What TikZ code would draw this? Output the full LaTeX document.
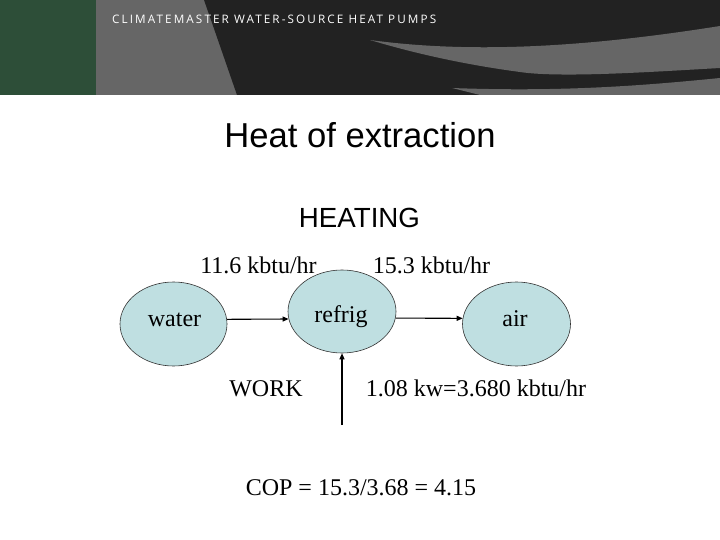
\documentclass[tikz,border=0pt]{standalone}
\usepackage{fontspec}
\usepackage{graphicx}
\setmainfont{Liberation Serif}
\newfontfamily\arialf{Liberation Sans}
\newfontfamily\headf{Open Sans}
\usetikzlibrary{shapes.geometric,arrows.meta}
\definecolor{hgreen}{HTML}{2D4E38}
\definecolor{hgray}{HTML}{666666}
\definecolor{hdark}{HTML}{222222}
\definecolor{ellfill}{HTML}{BFDFE1}
\tikzset{
  blob/.style={ellipse, draw=black!80, line width=0.6pt, fill=ellfill, minimum width=107pt, minimum height=84pt, inner sep=0pt, font=\fontsize{24}{28}\selectfont},
  lbl/.style={anchor=base, inner sep=0pt, font=\fontsize{24}{28}\selectfont},
  arr/.style={line width=1.1pt, -{Triangle[length=6pt,width=5pt]}}
}
\begin{document}
\begin{tikzpicture}[x=1pt,y=-1pt]
\useasboundingbox (0,0) rectangle (720,540);
\fill[white] (0,0) rectangle (720,540);
% header
\fill[hgray] (0,0) rectangle (720,95);
\fill[hdark] (204,0) .. controls (218,40) and (230,75) .. (237,95) -- (720,95) -- (720,0) -- cycle;
\fill[hgray] (370,40) .. controls (480,55) and (600,45) .. (720,26) -- (720,68) .. controls (650,72) and (560,78) .. (520,72) .. controls (460,64) and (410,52) .. (370,40) -- cycle;
\fill[hgray] (452,88) .. controls (560,92) and (640,86) .. (720,78) -- (720,95) -- (480,95) -- cycle;
\fill[hgreen] (0,0) rectangle (96,95);
\node[anchor=west, inner sep=0pt, text=white] (head) at (112,19) {\resizebox{324pt}{!}{\headf\addfontfeatures{LetterSpace=18}CLIMATEMASTER WATER-SOURCE HEAT PUMPS}};
% titles
\node[anchor=base, inner sep=0pt, font=\arialf\fontsize{34.6}{40}\selectfont] (title) at (360,148) {Heat of extraction};
\node[anchor=base, inner sep=0pt, font=\arialf\fontsize{27.7}{32}\selectfont] (heating) at (359.5,227) {HEATING};
% ellipses
\node[blob] (water) at (173.5,324) {};
\node[blob, minimum width=108pt, minimum height=83pt] (refrig) at (342,311.5) {};
\node[blob, minimum width=108pt] (air) at (516.5,324) {};
\node[lbl] (twater) at (174.5,326) {water};
\node[lbl] (trefrig) at (341,322) {refrig};
\node[lbl] (tair) at (515,326) {air};
% arrows
\draw[arr] (water.5) -- (refrig.188);
\draw[arr] (refrig.-7) -- (air.174);
\coordinate (wsrc) at (342,425);
\draw[arr] (wsrc) -- (refrig.south);
% labels
\node[lbl] (l1) at (258.5,273) {11.6 kbtu/hr};
\node[lbl] (l2) at (431.5,273) {15.3 kbtu/hr};
\node[lbl] (work) at (266,396) {WORK};
\node[lbl] (kw) at (476,396) {1.08 kw=3.680 kbtu/hr};
\node[lbl] (cop) at (361,495) {COP = 15.3/3.68 = 4.15};
\end{tikzpicture}
\end{document}
